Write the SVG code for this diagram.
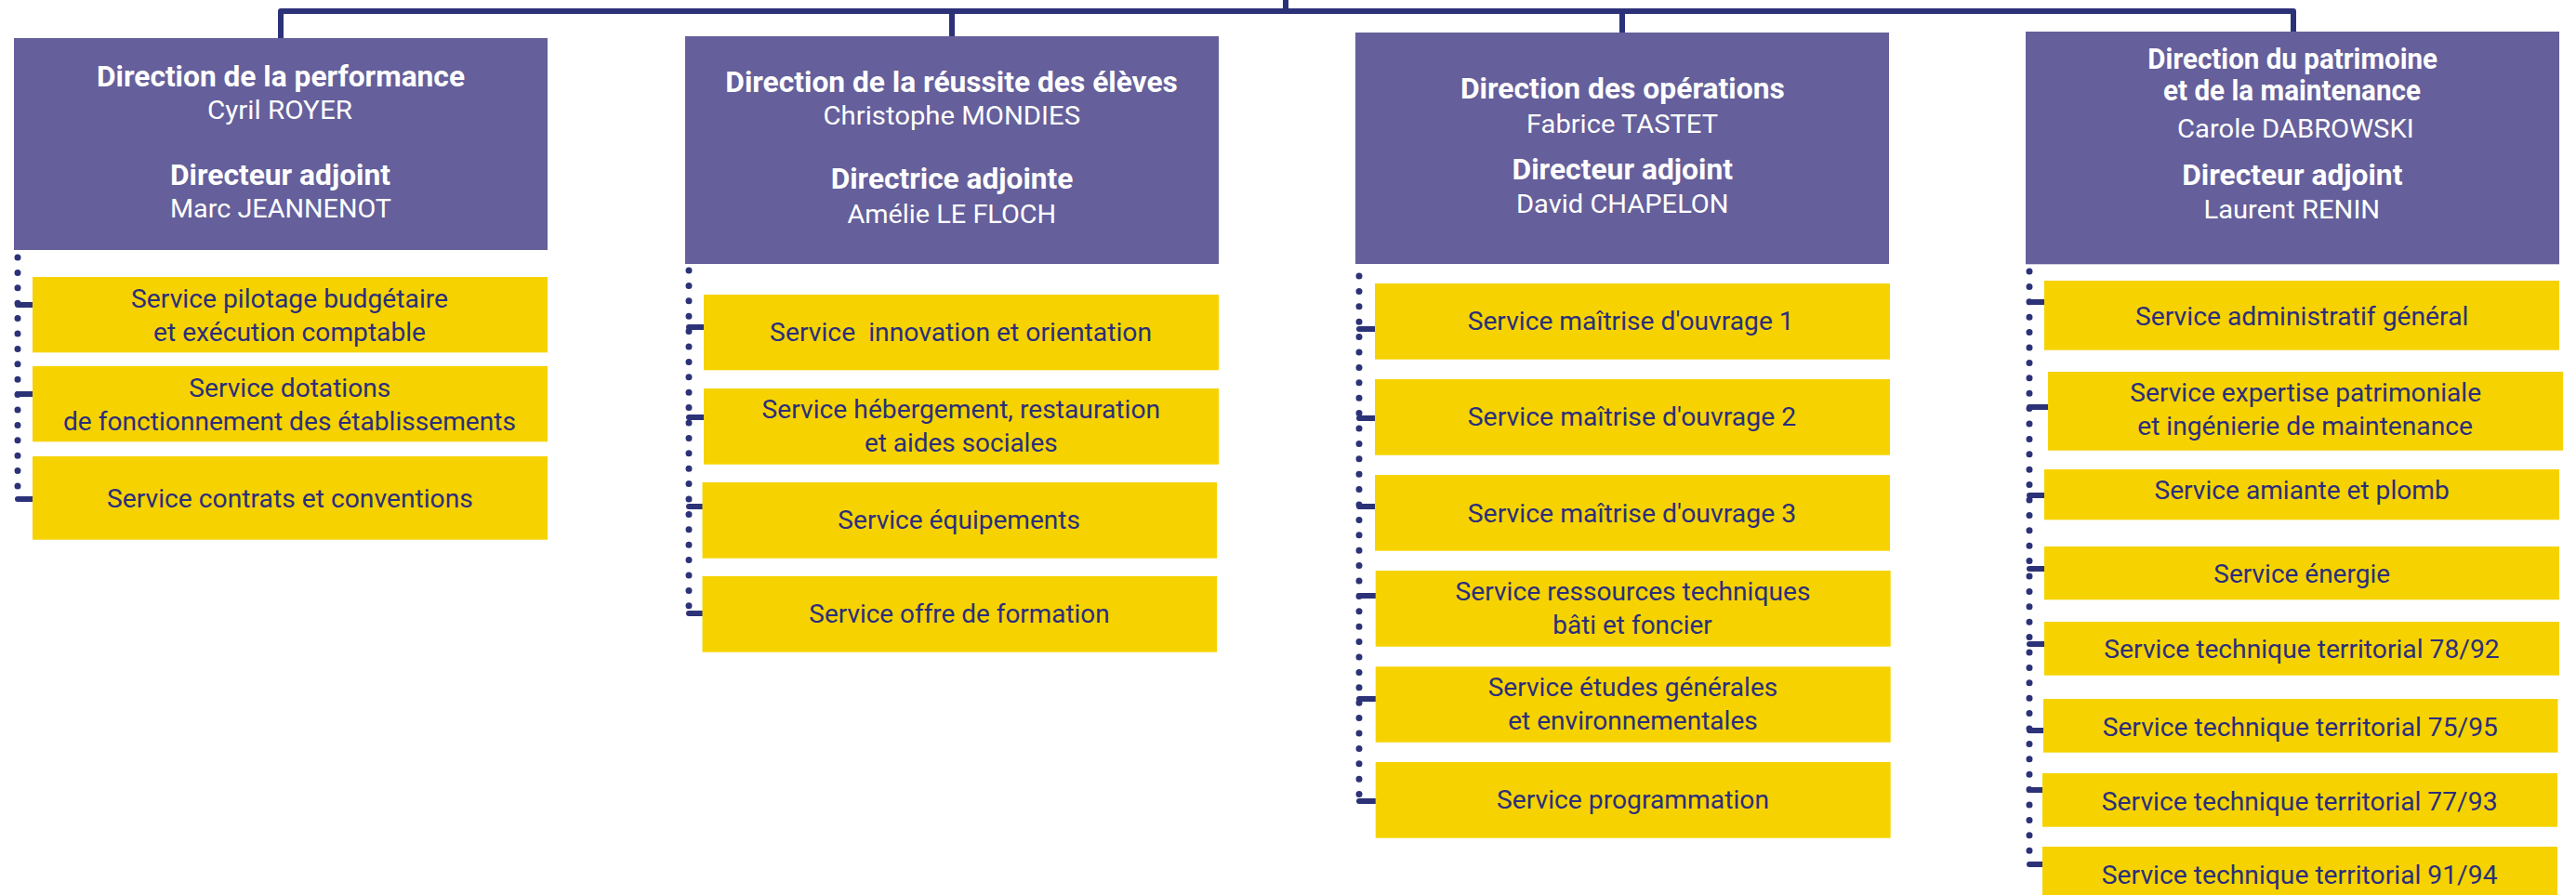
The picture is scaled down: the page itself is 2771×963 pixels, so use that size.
<svg xmlns="http://www.w3.org/2000/svg" width="2771" height="963" viewBox="0 0 2771 963">
<style>
.dir{fill:#655f9b}
.svc{fill:#f6d300}
.t{font-family:Roboto,"Liberation Sans",sans-serif;text-anchor:middle}
.tb{font-weight:bold;font-size:31px;fill:#ffffff}
.tn{font-size:28px;fill:#ffffff}
.ts{font-size:28px;fill:#2b2e7c}
.bus{fill:none;stroke:#2c3278;stroke-width:6;stroke-linejoin:round}
.dots{fill:none;stroke:#2c3278;stroke-width:7;stroke-linecap:round;stroke-dasharray:0 16.4}
.stub{stroke:#2c3278;stroke-width:6;stroke-linecap:round}
</style>
<rect width="2771" height="963" fill="#ffffff"/>
<g id="connectors">
<path class="bus" d="M302 41 V12 H2467 V34"/>
<path class="bus" d="M1383 0 V12"/>
<path class="bus" d="M1024 12 V39"/>
<path class="bus" d="M1745 12 V35"/>
<path class="dots" d="M19 277 V537"/>
<path class="dots" d="M741 291 V660"/>
<path class="dots" d="M1462 297 V862"/>
<path class="dots" d="M2183 292 V930"/>
<path class="stub" d="M19 328 H38 M19 424 H38 M19 537 H38"/>
<path class="stub" d="M741 352 H760 M741 449 H760 M741 545 H758 M741 660 H758"/>
<path class="stub" d="M1462 354 H1482 M1462 450 H1482 M1462 545 H1482 M1462 641 H1482 M1462 752 H1482 M1462 862 H1482"/>
<path class="stub" d="M2183 325 H2202 M2183 438 H2206 M2183 533 H2202 M2183 612 H2202 M2183 693 H2202 M2183 786 H2201 M2183 850 H2200 M2183 930 H2200"/>
</g>
<g id="dir-performance">
<rect class="dir" x="15" y="41" width="574" height="228"/>
<text class="t tb" x="302" y="92.7" textLength="396" lengthAdjust="spacingAndGlyphs">Direction de la performance</text>
<text class="t tn" x="301" y="128" textLength="156" lengthAdjust="spacingAndGlyphs">Cyril ROYER</text>
<text class="t tb" x="301.5" y="198.7" textLength="237" lengthAdjust="spacingAndGlyphs">Directeur adjoint</text>
<text class="t tn" x="302" y="234" textLength="238" lengthAdjust="spacingAndGlyphs">Marc JEANNENOT</text>
</g>
<g id="svc-pilotage">
<rect class="svc" x="35" y="298" width="554" height="81.3"/>
<text class="t ts" x="311.6" y="330.7" textLength="341" lengthAdjust="spacingAndGlyphs">Service pilotage budgétaire</text>
<text class="t ts" x="311.5" y="366.7" textLength="293" lengthAdjust="spacingAndGlyphs">et exécution comptable</text>
</g>
<g id="svc-dotations">
<rect class="svc" x="35" y="394" width="554" height="81.3"/>
<text class="t ts" x="311.8" y="426.7" textLength="217" lengthAdjust="spacingAndGlyphs">Service dotations</text>
<text class="t ts" x="311.5" y="462.7" textLength="487" lengthAdjust="spacingAndGlyphs">de fonctionnement des établissements</text>
</g>
<g id="svc-contrats">
<rect class="svc" x="35" y="491" width="554" height="89.7"/>
<text class="t ts" x="311.9" y="545.7" textLength="394" lengthAdjust="spacingAndGlyphs">Service contrats et conventions</text>
</g>
<g id="dir-reussite">
<rect class="dir" x="737" y="39" width="574" height="245"/>
<text class="t tb" x="1023.6" y="99" textLength="486.6" lengthAdjust="spacingAndGlyphs">Direction de la réussite des élèves</text>
<text class="t tn" x="1023.8" y="134.3" textLength="276.5" lengthAdjust="spacingAndGlyphs">Christophe MONDIES</text>
<text class="t tb" x="1024" y="203.3" textLength="260.7" lengthAdjust="spacingAndGlyphs">Directrice adjointe</text>
<text class="t tn" x="1023.8" y="240" textLength="224.8" lengthAdjust="spacingAndGlyphs">Amélie LE FLOCH</text>
</g>
<g id="svc-innovation">
<rect class="svc" x="757" y="317" width="554" height="81.3"/>
<text class="t ts" x="1033.6" y="367.3" textLength="411" lengthAdjust="spacingAndGlyphs" style="white-space:pre">Service  innovation et orientation</text>
</g>
<g id="svc-hebergement">
<rect class="svc" x="757" y="418" width="554" height="81.7"/>
<text class="t ts" x="1033.8" y="450" textLength="428.6" lengthAdjust="spacingAndGlyphs">Service hébergement, restauration</text>
<text class="t ts" x="1033.8" y="486" textLength="207.6" lengthAdjust="spacingAndGlyphs">et aides sociales</text>
</g>
<g id="svc-equipements">
<rect class="svc" x="755.5" y="519" width="553.5" height="81.7"/>
<text class="t ts" x="1031.7" y="569" textLength="260.7" lengthAdjust="spacingAndGlyphs">Service équipements</text>
</g>
<g id="svc-offre">
<rect class="svc" x="755.5" y="620" width="553.5" height="81.7"/>
<text class="t ts" x="1032" y="670" textLength="323.3" lengthAdjust="spacingAndGlyphs">Service offre de formation</text>
</g>
<g id="dir-operations">
<rect class="dir" x="1458" y="35" width="574" height="249"/>
<text class="t tb" x="1745.4" y="105.7" textLength="349" lengthAdjust="spacingAndGlyphs">Direction des opérations</text>
<text class="t tn" x="1745" y="142.7" textLength="206" lengthAdjust="spacingAndGlyphs">Fabrice TASTET</text>
<text class="t tb" x="1745.3" y="193.3" textLength="237.5" lengthAdjust="spacingAndGlyphs">Directeur adjoint</text>
<text class="t tn" x="1745.3" y="229.3" textLength="228.6" lengthAdjust="spacingAndGlyphs">David CHAPELON</text>
</g>
<g id="svc-moa1">
<rect class="svc" x="1479" y="305" width="554" height="81.7"/>
<text class="t ts" x="1754.2" y="355" textLength="351" lengthAdjust="spacingAndGlyphs">Service maîtrise d'ouvrage 1</text>
</g>
<g id="svc-moa2">
<rect class="svc" x="1479" y="408" width="554" height="81.7"/>
<text class="t ts" x="1755.5" y="458.3" textLength="353.5" lengthAdjust="spacingAndGlyphs">Service maîtrise d'ouvrage 2</text>
</g>
<g id="svc-moa3">
<rect class="svc" x="1479" y="511" width="554" height="81.7"/>
<text class="t ts" x="1755.5" y="561.7" textLength="353.5" lengthAdjust="spacingAndGlyphs">Service maîtrise d'ouvrage 3</text>
</g>
<g id="svc-ressources">
<rect class="svc" x="1479.7" y="614" width="554" height="81.7"/>
<text class="t ts" x="1756.5" y="646" textLength="382" lengthAdjust="spacingAndGlyphs">Service ressources techniques</text>
<text class="t ts" x="1756" y="681.7" textLength="171.5" lengthAdjust="spacingAndGlyphs">bâti et foncier</text>
</g>
<g id="svc-etudes">
<rect class="svc" x="1479.7" y="717.3" width="554" height="81.4"/>
<text class="t ts" x="1756.5" y="749.3" textLength="311.6" lengthAdjust="spacingAndGlyphs">Service études générales</text>
<text class="t ts" x="1756.5" y="785" textLength="268.7" lengthAdjust="spacingAndGlyphs">et environnementales</text>
</g>
<g id="svc-programmation">
<rect class="svc" x="1479.7" y="820" width="554" height="81.7"/>
<text class="t ts" x="1756.5" y="870" textLength="293" lengthAdjust="spacingAndGlyphs">Service programmation</text>
</g>
<g id="dir-patrimoine">
<rect class="dir" x="2179" y="34" width="574" height="250.3"/>
<text class="t tb" x="2466.2" y="74" textLength="311.7" lengthAdjust="spacingAndGlyphs">Direction du patrimoine</text>
<text class="t tb" x="2465.5" y="108.3" textLength="277" lengthAdjust="spacingAndGlyphs">et de la maintenance</text>
<text class="t tn" x="2469.4" y="147.7" textLength="254.6" lengthAdjust="spacingAndGlyphs">Carole DABROWSKI</text>
<text class="t tb" x="2465.8" y="199.3" textLength="237.2" lengthAdjust="spacingAndGlyphs">Directeur adjoint</text>
<text class="t tn" x="2465.3" y="235" textLength="189.7" lengthAdjust="spacingAndGlyphs">Laurent RENIN</text>
</g>
<g id="svc-administratif">
<rect class="svc" x="2199" y="302" width="554" height="74.7"/>
<text class="t ts" x="2476.2" y="350" textLength="358.4" lengthAdjust="spacingAndGlyphs">Service administratif général</text>
</g>
<g id="svc-expertise">
<rect class="svc" x="2203" y="400" width="554" height="84.7"/>
<text class="t ts" x="2480.2" y="431.7" textLength="377.8" lengthAdjust="spacingAndGlyphs">Service expertise patrimoniale</text>
<text class="t ts" x="2479.6" y="468.3" textLength="360.8" lengthAdjust="spacingAndGlyphs">et ingénierie de maintenance</text>
</g>
<g id="svc-amiante">
<rect class="svc" x="2199" y="505" width="554" height="54.3"/>
<text class="t ts" x="2476.1" y="537.3" textLength="317.2" lengthAdjust="spacingAndGlyphs">Service amiante et plomb</text>
</g>
<g id="svc-energie">
<rect class="svc" x="2199" y="588" width="554" height="57.3"/>
<text class="t ts" x="2476.2" y="626.7" textLength="189.7" lengthAdjust="spacingAndGlyphs">Service énergie</text>
</g>
<g id="svc-stt-7892">
<rect class="svc" x="2199" y="669" width="554" height="57.7"/>
<text class="t ts" x="2476" y="708.3" textLength="425.3" lengthAdjust="spacingAndGlyphs">Service technique territorial 78/92</text>
</g>
<g id="svc-stt-7595">
<rect class="svc" x="2198" y="752" width="553.5" height="57.7"/>
<text class="t ts" x="2474.3" y="792" textLength="425.3" lengthAdjust="spacingAndGlyphs">Service technique territorial 75/95</text>
</g>
<g id="svc-stt-7793">
<rect class="svc" x="2197" y="832" width="554" height="57.7"/>
<text class="t ts" x="2473.7" y="872" textLength="425.7" lengthAdjust="spacingAndGlyphs">Service technique territorial 77/93</text>
</g>
<g id="svc-stt-9194">
<rect class="svc" x="2197" y="911" width="554" height="52"/>
<text class="t ts" x="2473.7" y="950.7" textLength="425.7" lengthAdjust="spacingAndGlyphs">Service technique territorial 91/94</text>
</g>
</svg>
